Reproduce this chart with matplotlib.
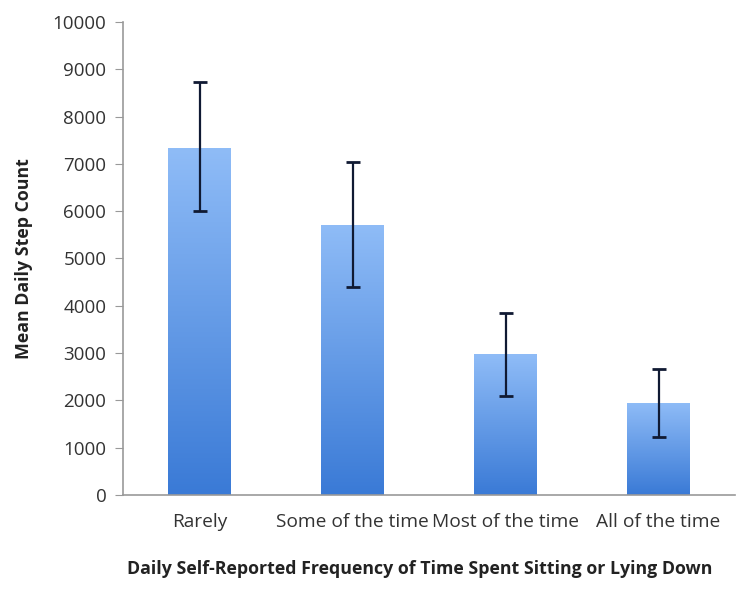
import numpy as np
import matplotlib
matplotlib.use("Agg")
import matplotlib.pyplot as plt
from matplotlib.colors import LinearSegmentedColormap

# Data
categories = ["Rarely", "Some of the time", "Most of the time", "All of the time"]
means = [7330, 5710, 2980, 1945]
err_low = [6000, 4400, 2095, 1225]
err_high = [8730, 7040, 3850, 2670]

plt.rcParams["font.family"] = ["Open Sans", "DejaVu Sans"]

fig = plt.figure(figsize=(7.5, 5.92), dpi=100)
ax = fig.add_axes([0.164, 0.164, 0.816, 0.799])

x = np.arange(len(categories))
bars = ax.bar(x, means, width=0.41, color="none", edgecolor="none", zorder=2)

# vertical gradient fill: light at top, darker at bottom
cmap = LinearSegmentedColormap.from_list("bluegrad", ["#3a7ad6", "#8fbcf7"])
grad = np.linspace(0, 1, 256).reshape(-1, 1)
for b in bars:
    x0, y0 = b.get_x(), b.get_y()
    w, h = b.get_width(), b.get_height()
    im = ax.imshow(grad, extent=[x0, x0 + w, y0, y0 + h], origin="lower",
                   cmap=cmap, aspect="auto", zorder=2)
    im.set_clip_path(b)

yerr = [np.array(means) - np.array(err_low), np.array(err_high) - np.array(means)]
ax.errorbar(x, means, yerr=yerr, fmt="none", ecolor="#101a33",
            elinewidth=1.6, capsize=5, capthick=2, zorder=3)

ax.set_xlim(-0.5, len(categories) - 0.5)
ax.set_ylim(0, 10000)
ax.set_yticks(range(0, 10001, 1000))
ax.set_xticks(x)
ax.set_xticklabels(categories, fontsize=13.8, color="#333333")
ax.tick_params(axis="y", labelsize=13.5, colors="#333333", length=6,
               color="#999999", pad=6)
ax.tick_params(axis="x", length=0, pad=13)

for s in ["top", "right"]:
    ax.spines[s].set_visible(False)
for s in ["left", "bottom"]:
    ax.spines[s].set_color("#999999")
    ax.spines[s].set_linewidth(1.2)

ax.set_ylabel("Mean Daily Step Count", fontsize=12.8, fontweight="bold",
              color="#222222", labelpad=14)
ax.set_xlabel("Daily Self-Reported Frequency of Time Spent Sitting or Lying Down",
              fontsize=12.8, fontweight="bold", color="#222222")
ax.xaxis.set_label_coords(0.485, -0.137)

fig.savefig("out.png", dpi=100)
